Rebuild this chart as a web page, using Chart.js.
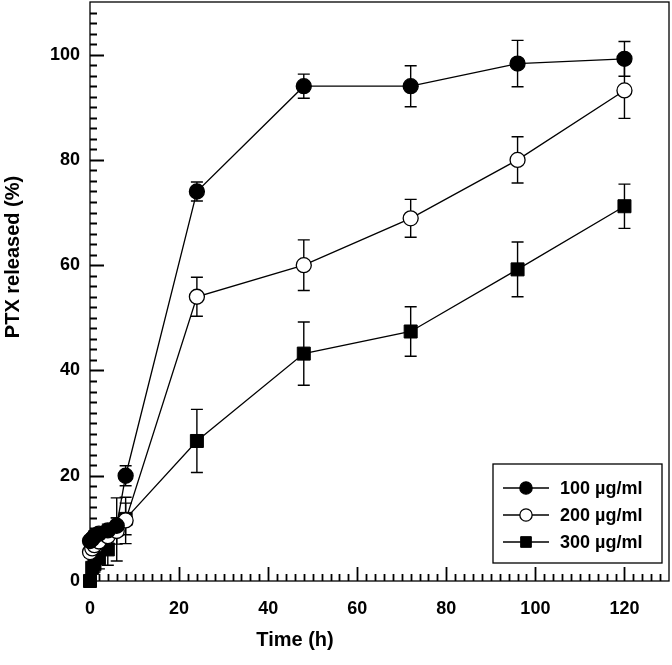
<!DOCTYPE html>
<html>
<head>
<meta charset="utf-8">
<script src="https://cdn.jsdelivr.net/npm/chart.js@4.4.0/dist/chart.umd.min.js"></script>
<style>
  html, body { margin: 0; padding: 0; background: #fff; }
  #wrap { width: 672px; height: 665px; }
</style>
</head>
<body>
<div id="wrap"><canvas id="myChart"></canvas></div>
<script>
// sampling times (h)
const times = [0, 0.5, 1, 2, 4, 6, 8, 24, 48, 72, 96, 120];

// PTX released (%) and error (+/-) for each concentration
const release100 = [7.6, 8.0, 8.5, 9.0, 9.6, 10.5, 20.0, 74.0, 94.0, 94.0, 98.3, 99.2];
const err100 = [0.6, 0.8, 1.0, 1.0, 1.2, 1.5, 1.9, 1.8, 2.3, 3.9, 4.4, 3.3];

const release200 = [5.5, 6.2, 6.8, 7.5, 8.5, 9.5, 11.5, 54.0, 60.0, 68.9, 80.0, 93.2];
const err200 = [1.0, 1.5, 1.5, 2.0, 2.0, 2.5, 4.4, 3.7, 4.8, 3.6, 4.4, 5.3];

const release300 = [0, 2.5, 3.2, 4.3, 6.0, 9.8, 11.8, 26.6, 43.2, 47.4, 59.2, 71.2];
const err300 = [0, 1.0, 1.5, 2.0, 3.0, 6.0, 3.0, 6.0, 6.0, 4.7, 5.2, 4.2];

const seriesLabels = ['100 \u00b5g/ml', '200 \u00b5g/ml', '300 \u00b5g/ml'];
const errors = [err100, err200, err300];

const FONT = '"Liberation Sans", Arial, sans-serif';

function toPoints(vals) {
	return times.map((t, i) => ({ x: t, y: vals[i] }));
}

// no extra room for tick labels at the ends of the axes
function noPadding(scale) {
	scale.paddingTop = 0;
	scale.paddingBottom = 0;
	scale.paddingLeft = 0;
	scale.paddingRight = 0;
}

// error bars, drawn under the lines and markers
const errorBars = {
	id: 'errorBars',
	beforeDatasetsDraw(chart) {
		const ctx = chart.ctx, xs = chart.scales.x, ys = chart.scales.y;
		ctx.save();
		ctx.strokeStyle = '#000';
		ctx.lineWidth = 1.4;
		chart.data.datasets.forEach((ds, i) => {
			ds.data.forEach((p, j) => {
				const e = errors[i][j];
				if (!e) return;
				const px = xs.getPixelForValue(p.x);
				const top = ys.getPixelForValue(p.y + e);
				const bot = ys.getPixelForValue(p.y - e);
				ctx.beginPath();
				ctx.moveTo(px, top); ctx.lineTo(px, bot);
				ctx.moveTo(px - 6, top); ctx.lineTo(px + 6, top);
				ctx.moveTo(px - 6, bot); ctx.lineTo(px + 6, bot);
				ctx.stroke();
			});
		});
		ctx.restore();
	}
};

// box round the plot, inward ticks, axis titles
const frame = {
	id: 'frame',
	beforeDatasetsDraw(chart) {
		const ctx = chart.ctx, a = chart.chartArea, xs = chart.scales.x, ys = chart.scales.y;
		ctx.save();
		ctx.strokeStyle = '#000';
		ctx.lineWidth = 1.3;
		ctx.strokeRect(a.left, a.top, a.right - a.left, a.bottom - a.top);
		ctx.lineWidth = 1.8;
		ctx.beginPath();
		for (let v = 2; v < xs.max; v += 2) {
			const px = Math.round(xs.getPixelForValue(v)) + 0.5;
			const len = v % 20 === 0 ? 14 : 7;
			ctx.moveTo(px, a.bottom); ctx.lineTo(px, a.bottom - len);
		}
		for (let v = 2; v < ys.max; v += 2) {
			const py = Math.round(ys.getPixelForValue(v)) + 0.5;
			const len = v % 20 === 0 ? 14 : 7;
			ctx.moveTo(a.left, py); ctx.lineTo(a.left + len, py);
		}
		ctx.stroke();

		ctx.fillStyle = '#000';
		ctx.font = 'bold 20px ' + FONT;
		ctx.textAlign = 'center';
		ctx.textBaseline = 'middle';
		ctx.fillText('Time (h)', a.left + 205, a.bottom + 59);
		ctx.translate(13, a.top + 255);
		ctx.rotate(-Math.PI / 2);
		ctx.fillText('PTX released (%)', 0, 0);
		ctx.restore();
	}
};

// legend box in the lower right corner
const boxLegend = {
	id: 'boxLegend',
	afterDraw(chart) {
		const ctx = chart.ctx, a = chart.chartArea;
		const w = 169, h = 99;
		const left = a.right - 7 - w, top = a.bottom - 18 - h;
		ctx.save();
		ctx.strokeStyle = '#000';
		ctx.lineWidth = 1.3;
		ctx.strokeRect(left, top, w, h);
		ctx.font = 'bold 18px ' + FONT;
		ctx.textAlign = 'left';
		ctx.textBaseline = 'middle';
		chart.data.datasets.forEach((ds, i) => {
			const y = top + 24 + i * 27;
			ctx.lineWidth = 1.3;
			ctx.strokeStyle = '#000';
			ctx.beginPath();
			ctx.moveTo(left + 10, y); ctx.lineTo(left + 56, y);
			ctx.stroke();
			ctx.fillStyle = ds.pointBackgroundColor;
			ctx.strokeStyle = '#000';
			ctx.lineWidth = ds.pointBorderWidth;
			Chart.helpers.drawPoint(ctx, {
				pointStyle: ds.pointStyle,
				radius: ds.pointRadius * 0.82,
				rotation: 0,
				borderWidth: ds.pointBorderWidth
			}, left + 33, y);
			ctx.fillStyle = '#000';
			ctx.fillText(ds.label, left + 67, y + 1);
		});
		ctx.restore();
	}
};

const ctx = document.getElementById('myChart').getContext('2d');
new Chart(ctx, {
	type: 'line',
	data: {
		datasets: [
			{
				label: seriesLabels[0],
				data: toPoints(release100),
				borderColor: '#000',
				borderWidth: 1.3,
				pointStyle: 'circle',
				pointRadius: 7.5,
				pointBackgroundColor: '#000',
				pointBorderColor: '#000',
				pointBorderWidth: 1.3,
				clip: false
			},
			{
				label: seriesLabels[1],
				data: toPoints(release200),
				borderColor: '#000',
				borderWidth: 1.3,
				pointStyle: 'circle',
				pointRadius: 7.5,
				pointBackgroundColor: '#fff',
				pointBorderColor: '#000',
				pointBorderWidth: 1.3,
				clip: false
			},
			{
				label: seriesLabels[2],
				data: toPoints(release300),
				borderColor: '#000',
				borderWidth: 1.3,
				pointStyle: 'rect',
				pointRadius: 9.2,
				pointBackgroundColor: '#000',
				pointBorderColor: '#000',
				pointBorderWidth: 1,
				clip: false
			}
		]
	},
	options: {
		responsive: true,
		maintainAspectRatio: false,
		animation: false,
		layout: { autoPadding: false, padding: { top: 2, right: 3, left: 0, bottom: 0 } },
		plugins: {
			legend: { display: false },
			tooltip: { enabled: false }
		},
		scales: {
			x: {
				type: 'linear',
				min: 0,
				max: 130,
				grid: { display: false, drawTicks: false },
				border: { display: false },
				ticks: {
					stepSize: 20,
					includeBounds: false,
					padding: 17,
					color: '#000',
					font: { family: FONT, size: 18, weight: 'bold' },
					maxRotation: 0
				},
				afterFit(scale) { scale.height = 84; noPadding(scale); }
			},
			y: {
				type: 'linear',
				min: 0,
				max: 110,
				grid: { display: false, drawTicks: false },
				border: { display: false },
				ticks: {
					stepSize: 20,
					includeBounds: false,
					padding: 10,
					color: '#000',
					font: { family: FONT, size: 18, weight: 'bold' }
				},
				afterFit(scale) { scale.width = 90; noPadding(scale); }
			}
		}
	},
	plugins: [errorBars, frame, boxLegend]
});
</script>
</body>
</html>
